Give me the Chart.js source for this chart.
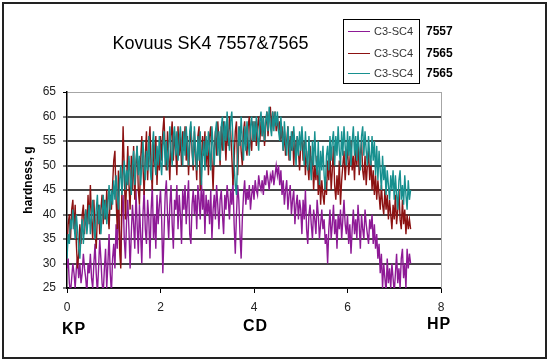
<!DOCTYPE html>
<html>
<head>
<meta charset="utf-8">
<script src="https://cdn.jsdelivr.net/npm/chart.js@4/dist/chart.umd.min.js"></script>
<style>
  html, body { margin:0; padding:0; background:#fff; }
  #wrap { position:relative; width:549px; height:360px; overflow:hidden; font-family:"Liberation Sans", Arial, sans-serif; }
  #frame { position:absolute; left:2px; top:2px; width:541px; height:353px; border:2px solid #222; }
  canvas { position:absolute; left:0; top:0; }
  .t { position:absolute; white-space:nowrap; color:#000; }
  #title { left:0; width:421px; text-align:center; top:33px; font-size:18px; }
  #ylab { left:28px; top:180px; font-size:12px; font-weight:bold; transform:translate(-50%,-50%) rotate(-90deg); }
  #legend { position:absolute; left:343px; top:19px; width:75px; height:63px; border:1px solid #000; background:#fff; }
  .lrow { position:absolute; left:0; height:14px; width:75px; }
  .lline { position:absolute; left:4px; top:7px; width:22px; height:1px; }
  .ltxt { position:absolute; left:30px; top:0; font-size:11px; color:#333; line-height:14px; }
  .lid { position:absolute; left:426px; font-size:12px; font-weight:bold; line-height:14px; }
  .pos { font-size:16px; font-weight:bold; letter-spacing:1px; }
</style>
</head>
<body>
<div id="wrap">
  <canvas id="c" width="549" height="360"></canvas>
  <div id="frame"></div>
  <div class="t" id="title">Kovuus SK4 7557&amp;7565</div>
  <div class="t" id="ylab">hardness, g</div>
  <div id="legend"></div>
  <div class="t pos" style="left:62px; top:320px;">KP</div>
  <div class="t pos" style="left:243px; top:317px;">CD</div>
  <div class="t pos" style="left:427px; top:315px;">HP</div>
</div>
<script>
const seriesNames = ['C3-SC4', 'C3-SC4', 'C3-SC4'];
const seriesIds = ['7557', '7565', '7565'];
const seriesColors = ['#8e1a96', '#8c1212', '#17908f'];
const xTicks = [0, 2, 4, 6, 8];
const yTicks = [25, 30, 35, 40, 45, 50, 55, 60, 65];
const step = 0.025;

const purple7557 = [
  29, 31, 26, 24, 27, 30, 28, 25, 29, 31, 27, 30, 26, 28, 32, 29, 27, 24, 30, 28,
  32, 27, 25, 30, 34, 28, 24, 29, 35, 31, 26, 24, 29, 33, 25, 30, 36, 28, 24, 31,
  34, 29, 38, 33, 41, 36, 30, 40, 44, 35, 31, 39, 43, 37, 29, 36, 42, 38, 33, 45,
  38, 32, 42, 36, 30, 40, 45, 37, 34, 43, 39, 31, 41, 46, 35, 40, 33, 44, 38, 42,
  45, 39, 28, 36, 44, 47, 40, 35, 42, 46, 38, 33, 43, 41, 46, 37, 44, 40, 34, 45,
  41, 46, 38, 43, 47, 36, 34, 42, 45, 40, 44, 37, 46, 43, 39, 47, 41, 45, 36, 44,
  40, 43, 38, 45, 35, 41, 44, 39, 46, 42, 37, 43, 45, 40, 36, 44, 41, 46, 43, 39,
  45, 42, 47, 38, 32, 40, 46, 43, 36, 31, 39, 44, 47, 42, 45, 43, 46, 41, 44, 46,
  43, 47, 45, 44, 48, 46, 45, 47, 44, 48, 46, 49, 47, 45, 48, 47, 49, 46, 48, 50,
  48, 50, 46, 49, 44, 47, 42, 45, 47, 41, 44, 46, 40, 43, 45, 38, 42, 44, 39, 43,
  41, 36, 43, 39, 45, 37, 34, 40, 42, 38, 35, 41, 39, 36, 43, 40, 35, 38, 41, 37,
  39, 34, 36, 30, 37, 41, 35, 38, 42, 36, 39, 33, 40, 37, 41, 35, 39, 43, 38, 36,
  40, 34, 38, 32, 37, 41, 36, 39, 35, 42, 38, 33, 40, 37, 35, 41, 38, 36, 34, 39,
  37, 40, 34, 38, 33, 36, 31, 34, 28, 32, 25, 30, 27, 24, 31, 26, 29, 25, 30, 27,
  24, 28, 32, 26, 29, 25, 31, 33, 27, 30, 25, 33, 29, 32, 30
];
const red7565 = [
  33, 38, 40, 35, 41, 43, 37, 42, 34, 29, 32, 38, 34, 40, 42, 36, 41, 37, 44, 38,
  46, 39, 35, 43, 37, 33, 40, 42, 36, 41, 44, 38, 43, 39, 45, 40, 37, 44, 41, 46,
  51, 53, 43, 37, 49, 33, 29, 46, 58, 49, 39, 47, 54, 46, 41, 52, 45, 54, 43, 50,
  54, 45, 42, 51, 56, 50, 44, 52, 57, 47, 54, 58, 49, 45, 55, 50, 56, 46, 53, 49,
  56, 51, 57, 60, 53, 49, 57, 52, 47, 56, 59, 51, 57, 53, 48, 58, 52, 56, 50, 57,
  53, 58, 51, 56, 48, 54, 58, 53, 49, 57, 52, 47, 56, 58, 45, 51, 56, 52, 57, 50,
  55, 48, 56, 58, 51, 45, 53, 57, 52, 59, 55, 50, 58, 53, 59, 56, 51, 58, 54, 60,
  57, 52, 46, 51, 57, 59, 48, 55, 58, 53, 50, 57, 59, 54, 52, 58, 60, 55, 53, 59,
  55, 59, 54, 58, 60, 55, 59, 56, 60, 54, 58, 61, 56, 60, 62, 57, 61, 58, 61, 57,
  60, 57, 59, 55, 58, 53, 57, 52, 55, 58, 51, 56, 53, 57, 50, 55, 52, 56, 53, 49,
  54, 57, 51, 55, 48, 53, 50, 47, 54, 49, 52, 45, 50, 47, 52, 44, 49, 42, 47, 44,
  42, 47, 44, 51, 47, 53, 45, 49, 54, 46, 43, 48, 44, 51, 42, 47, 50, 53, 47, 51,
  54, 48, 51, 55, 49, 52, 47, 54, 50, 56, 48, 52, 55, 49, 47, 52, 46, 50, 53, 47,
  51, 45, 49, 44, 48, 43, 47, 44, 41, 46, 42, 40, 45, 41, 44, 39, 43, 40, 37, 42,
  39, 44, 38, 41, 45, 39, 37, 43, 38, 41, 36, 40, 37, 39, 37
];
const teal7565 = [
  31, 36, 34, 39, 37, 41, 38, 35, 40, 37, 33, 31, 36, 39, 34, 38, 41, 36, 39, 42,
  36, 40, 43, 37, 35, 41, 44, 38, 42, 36, 40, 44, 39, 43, 38, 42, 46, 41, 45, 42,
  47, 43, 48, 44, 41, 47, 50, 44, 48, 51, 45, 49, 46, 52, 48, 44, 50, 53, 46, 51,
  54, 48, 52, 46, 50, 55, 50, 47, 53, 49, 56, 50, 47, 54, 57, 51, 48, 54, 50, 56,
  51, 48, 54, 57, 50, 55, 49, 53, 58, 53, 50, 56, 58, 52, 57, 51, 55, 58, 54, 50,
  57, 52, 58, 54, 50, 57, 59, 53, 50, 58, 53, 49, 56, 51, 57, 46, 52, 55, 49, 56,
  52, 57, 53, 49, 58, 54, 50, 57, 59, 52, 57, 51, 58, 60, 53, 59, 55, 61, 56, 53,
  59, 61, 55, 50, 46, 44, 52, 58, 54, 60, 55, 51, 58, 53, 59, 55, 52, 58, 60, 55,
  59, 55, 60, 56, 53, 59, 61, 56, 60, 55, 59, 61, 57, 62, 58, 56, 61, 57, 61, 58,
  61, 57, 55, 60, 56, 53, 59, 55, 52, 58, 54, 51, 57, 53, 58, 54, 50, 56, 52, 57,
  53, 58, 54, 50, 57, 52, 49, 56, 51, 47, 55, 50, 57, 51, 48, 55, 46, 53, 49, 54,
  48, 45, 52, 54, 49, 56, 51, 55, 57, 50, 56, 52, 58, 53, 50, 57, 52, 58, 54, 50,
  57, 52, 56, 50, 55, 58, 52, 56, 51, 57, 53, 49, 56, 58, 52, 57, 53, 50, 56, 52,
  50, 56, 51, 55, 48, 54, 47, 53, 49, 45, 52, 47, 50, 44, 49, 46, 43, 48, 45, 49,
  43, 48, 44, 41, 47, 49, 43, 46, 42, 48, 44, 41, 47, 43, 45
];

const seriesValues = [purple7557, red7565, teal7565];

// legend (HTML, real text)
const legend = document.getElementById('legend');
const wrap = document.getElementById('wrap');
const rowTops = [4, 26, 46];
seriesNames.forEach((name, i) => {
  const row = document.createElement('div');
  row.className = 'lrow';
  row.style.top = rowTops[i] + 'px';
  const ln = document.createElement('div');
  ln.className = 'lline';
  ln.style.background = seriesColors[i];
  const tx = document.createElement('div');
  tx.className = 'ltxt';
  tx.textContent = name;
  row.appendChild(ln); row.appendChild(tx);
  legend.appendChild(row);
  const id = document.createElement('div');
  id.className = 't lid';
  id.style.top = (19 + rowTops[i] + 1) + 'px';
  id.textContent = seriesIds[i];
  wrap.appendChild(id);
});

const toPoints = (arr) => arr.map((v, i) => ({ x: +(i * step).toFixed(3), y: v }));

const plotBorder = {
  id: 'plotBorder',
  beforeDatasetsDraw(chart) {
    const { ctx, chartArea: a } = chart;
    ctx.save();
    ctx.strokeStyle = '#a6a6a6';
    ctx.lineWidth = 1;
    ctx.beginPath();
    ctx.moveTo(Math.round(a.right) + 0.5, a.top);
    ctx.lineTo(Math.round(a.right) + 0.5, a.bottom);
    ctx.stroke();
    ctx.restore();
  }
};

new Chart(document.getElementById('c'), {
  type: 'line',
  data: {
    datasets: seriesValues.map((vals, i) => ({
      label: seriesNames[i] + ' ' + seriesIds[i],
      data: toPoints(vals),
      borderColor: seriesColors[i],
      backgroundColor: seriesColors[i],
      borderWidth: 1.4,
      pointRadius: 0,
      tension: 0,
      clip: 0,
      order: 3 - i
    }))
  },
  options: {
    responsive: false,
    animation: false,
    devicePixelRatio: 1,
    layout: { padding: { left: 0, top: 92, right: 108, bottom: 0 } },
    plugins: { legend: { display: false }, title: { display: false }, tooltip: { enabled: false } },
    scales: {
      x: {
        type: 'linear',
        min: xTicks[0], max: xTicks[xTicks.length - 1],
        afterBuildTicks: (s) => { s.ticks = xTicks.map(v => ({ value: v })); },
        afterFit: (s) => { s.height = 72; },
        ticks: { color: '#222', font: { family: '"Liberation Sans", Arial', size: 12 }, padding: 7, maxRotation: 0 },
        grid: { drawOnChartArea: false, drawTicks: true, tickLength: 5, tickColor: '#000', tickWidth: 1 },
        border: { color: '#000', width: 1.5 }
      },
      y: {
        min: yTicks[0], max: yTicks[yTicks.length - 1],
        afterBuildTicks: (s) => { s.ticks = yTicks.map(v => ({ value: v })); },
        afterFit: (s) => { s.width = 67; },
        ticks: { color: '#222', font: { family: '"Liberation Sans", Arial', size: 12 }, padding: 7 },
        grid: {
          color: (c) => c.tick && c.tick.value === 65 ? '#a6a6a6' : '#454545',
          lineWidth: (c) => c.tick && c.tick.value === 65 ? 1 : 2,
          tickLength: 4, tickColor: '#000', tickWidth: 1
        },
        border: { color: '#000', width: 1.5 }
      }
    }
  },
  plugins: [plotBorder]
});
</script>
</body>
</html>
